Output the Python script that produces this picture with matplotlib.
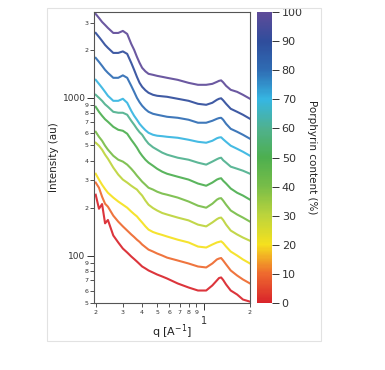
import numpy as np
import matplotlib
matplotlib.use("Agg")
import matplotlib.pyplot as plt
from matplotlib.colors import LinearSegmentedColormap, Normalize
from matplotlib.ticker import FixedLocator, FixedFormatter
from matplotlib.patches import Rectangle

# ---------------- data ----------------
q = [0.20, 0.21, 0.22, 0.23, 0.24, 0.26, 0.28, 0.30, 0.32, 0.34, 0.355, 0.37,
     0.385, 0.40, 0.42, 0.44, 0.47, 0.50, 0.54, 0.58, 0.68, 0.80, 0.92, 1.04,
     1.14, 1.22, 1.26, 1.30, 1.34, 1.40, 1.50, 1.65, 1.80, 2.00]

porphyrin = [0, 10, 20, 30, 40, 50, 60, 70, 80, 90, 100]

I_0 = [243, 198, 212, 160, 168, 134, 121, 110.7, 104.5, 98.6, 95, 91.6,
       88.3, 85.2, 82.8, 80.4, 78, 75.8, 73.6, 71.5, 66.5, 62.7, 60, 60,
       64.6, 69.5, 72, 72.6, 70, 65.5, 60, 56.6, 52.6, 51]
I_10 = [290, 269, 236, 213, 204, 179, 164, 153, 144, 136, 131, 126,
        122, 117.4, 113, 109, 106, 103, 100, 97, 93, 89, 85.2, 84,
        89, 94.4, 95.7, 96.4, 93, 87.8, 80.4, 74.7, 70.5, 66.5]
I_20 = [330, 303, 281, 264, 250, 233, 220, 210, 201, 190, 183, 177,
        169, 162, 153, 146, 141, 138, 135, 132, 126, 121, 114, 112.4,
        117.4, 121, 122, 123, 120, 114, 106, 100, 94.4, 89]
I_30 = [519, 497, 469, 436, 411, 361, 326, 303, 290, 277, 269, 262,
        250, 240, 223, 210, 200, 193, 186, 182, 174, 167, 157, 153,
        162, 170, 173, 174, 168, 157, 144, 136, 130, 124]
I_40 = [609, 566, 534, 497, 469, 429, 405, 394, 377, 355, 338, 321,
        307, 294, 281, 269, 262, 254, 247, 243, 233, 220, 207, 201,
        213, 226, 230, 231, 223, 210, 193, 182, 174, 164]
I_50 = [877, 815, 769, 731, 705, 655, 627, 618, 592, 542, 512, 483,
        452, 429, 405, 388, 371, 355, 340, 330, 316, 303, 286, 277,
        290, 303, 307, 309, 298, 286, 266, 250, 240, 226]
I_60 = [1045, 1000, 957, 909, 877, 815, 804, 804, 781, 715, 675, 636,
        605, 583, 542, 512, 486, 469, 449, 436, 417, 405, 388, 377,
        394, 408, 414, 417, 402, 388, 366, 355, 345, 330]
I_70 = [1300, 1226, 1157, 1091, 1030, 957, 957, 986, 930, 827, 769, 726,
        684, 655, 623, 600, 583, 575, 571, 566, 558, 542, 526, 519,
        534, 554, 560, 562, 546, 526, 497, 475, 455, 429]
I_80 = [1791, 1690, 1594, 1504, 1439, 1339, 1339, 1388, 1339, 1191, 1091, 1000,
        937, 890, 846, 815, 792, 781, 769, 758, 747, 726, 695, 695,
        715, 736, 744, 747, 726, 684, 636, 609, 583, 550]
I_90 = [2578, 2432, 2294, 2165, 2073, 1926, 1926, 1969, 1899, 1665, 1504, 1358,
        1244, 1174, 1116, 1076, 1045, 1030, 1022, 1015, 986, 957, 916, 903,
        930, 971, 986, 993, 964, 916, 852, 815, 781, 736]
I_100 = [3401, 3209, 3027, 2897, 2773, 2578, 2578, 2655, 2541, 2196, 2013, 1818,
         1665, 1549, 1471, 1419, 1399, 1378, 1358, 1339, 1300, 1244, 1209, 1209,
         1226, 1262, 1281, 1290, 1254, 1191, 1124, 1091, 1045, 986]

curves = [I_0, I_10, I_20, I_30, I_40, I_50, I_60, I_70, I_80, I_90, I_100]

y_major = [100, 1000]
y_minor = [50, 60, 70, 80, 90, 200, 300, 400, 500, 600, 700, 800, 900, 2000, 3000]
y_minor_labels = ["5", "6", "7", "8", "9", "2", "3", "4", "5", "6", "7", "8", "9", "2", "3"]
x_major = [1]
x_minor = [0.2, 0.3, 0.4, 0.5, 0.6, 0.7, 0.8, 0.9, 2.0]
x_minor_labels = ["2", "3", "4", "5", "6", "7", "8", "9", "2"]
cbar_ticks = [0, 10, 20, 30, 40, 50, 60, 70, 80, 90, 100]

# ---------------- style ----------------
plt.rcParams['font.family'] = ['DejaVu Sans']
cmap = LinearSegmentedColormap.from_list("porph", [
    (0.00, "#d9242b"), (0.10, "#ee6a2e"), (0.20, "#f5e11e"), (0.30, "#bcd43c"),
    (0.40, "#78bd48"), (0.50, "#4daf4f"), (0.60, "#4fb18e"), (0.70, "#36b6e2"),
    (0.80, "#2f6db4"), (0.90, "#2f4d9c"), (1.00, "#5f4b99")])
norm = Normalize(0, 100)

fig = plt.figure(figsize=(3.85, 3.70), dpi=100)
fig.patches.append(Rectangle((47/385, 1-341/370), (321-47)/385, (341-8)/370,
                             transform=fig.transFigure, fill=False,
                             edgecolor="#e2e2e2", lw=0.8))

ax = fig.add_axes([94/385, 1-303/370, 156/385, 291/370])
for p, I in zip(porphyrin, curves):
    ax.plot(q, I, color=cmap(norm(p)), lw=1.5, solid_joinstyle="round", alpha=0.92)

ax.set_xscale("log")
ax.set_yscale("log")
ax.set_xlim(0.195, 2.0)
ax.set_ylim(50, 3500)

gray = "#333333"
for s in ax.spines.values():
    s.set_color("#555555")
    s.set_linewidth(0.8)

ax.yaxis.set_major_locator(FixedLocator(y_major))
ax.yaxis.set_major_formatter(FixedFormatter([str(v) for v in y_major]))
ax.yaxis.set_minor_locator(FixedLocator(y_minor))
ax.yaxis.set_minor_formatter(FixedFormatter(y_minor_labels))
ax.xaxis.set_major_locator(FixedLocator(x_major))
ax.xaxis.set_major_formatter(FixedFormatter([str(v) for v in x_major]))
ax.xaxis.set_minor_locator(FixedLocator(x_minor))
ax.xaxis.set_minor_formatter(FixedFormatter(x_minor_labels))

ax.tick_params(axis="y", which="major", length=5, width=0.7, labelsize=6.5, pad=1, colors=gray)
ax.tick_params(axis="y", which="minor", length=3, width=0.6, labelsize=4.5, pad=1, colors=gray)
ax.tick_params(axis="x", which="major", length=5, width=0.7, labelsize=7, pad=4.5, colors=gray)
ax.tick_params(axis="x", which="minor", length=3, width=0.6, labelsize=4.5, pad=2, colors=gray)

ax.set_ylabel("Intensity (au)", fontsize=7.5, color="#222222")
ax.yaxis.set_label_coords(-0.222, 0.5)
ax.set_xlabel("q [A$^{-1}$]", fontsize=8, color="#222222")
ax.xaxis.set_label_coords(0.5, -0.065)

cax = fig.add_axes([257/385, 1-303/370, 15/385, 291/370])
sm = matplotlib.cm.ScalarMappable(norm=norm, cmap=cmap)
cb = fig.colorbar(sm, cax=cax, ticks=cbar_ticks)
cb.outline.set_visible(False)
cax.tick_params(length=5, width=0.7, labelsize=8, pad=2, colors="#333333")
cb.set_label("Porphyrin content (%)", rotation=270, fontsize=7.5, labelpad=10, color="#222222")

fig.savefig("out.png", dpi=100)
